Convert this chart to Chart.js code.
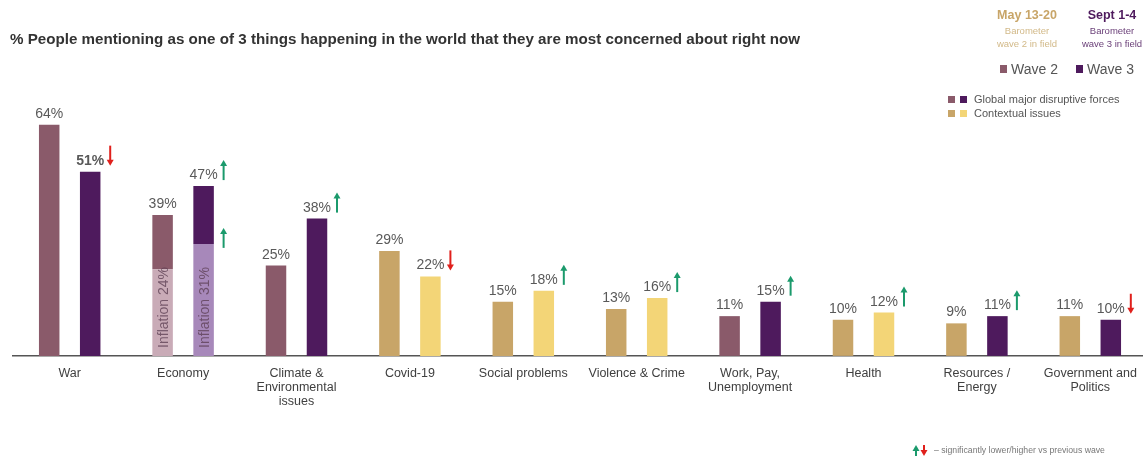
<!DOCTYPE html>
<html>
<head>
<meta charset="utf-8">
<script src="https://cdn.jsdelivr.net/npm/chart.js@4/dist/chart.umd.min.js"></script>
<style>
  html, body { margin: 0; padding: 0; overflow: hidden; background: #fff; }
</style>
</head>
<body>
<canvas id="chart1" width="1150" height="461"></canvas>
<script>
// Chart data
const categories = [['War'], ['Economy'], ['Climate &', 'Environmental', 'issues'], ['Covid-19'],
  ['Social problems'], ['Violence & Crime'], ['Work, Pay,', 'Unemployment'], ['Health'],
  ['Resources /', 'Energy'], ['Government and', 'Politics']];
const wave2 = [64, 39, 25, 29, 15, 13, 11, 10, 9, 11];
const wave3 = [51, 47, 38, 22, 18, 16, 15, 12, 11, 10];
const inflation2 = [0, 24, 0, 0, 0, 0, 0, 0, 0, 0];
const inflation3 = [0, 31, 0, 0, 0, 0, 0, 0, 0, 0];
// g = global major disruptive force, c = contextual issue
const group2 = ['g', 'g', 'g', 'c', 'c', 'c', 'g', 'c', 'c', 'c'];
const group3 = ['g', 'g', 'g', 'c', 'c', 'c', 'g', 'c', 'g', 'g'];
const change3 = ['down', 'up', 'up', 'down', 'up', 'up', 'up', 'up', 'up', 'down'];
const inflationChange3 = ['', 'up', '', '', '', '', '', '', '', ''];

const colors = {
  g2: '#8a5a6a', g3: '#4e1a5d', c2: '#c8a568', c3: '#f3d577',
  inf2: '#c9abb7', inf3: '#a788ba', up: '#1b9a6c', down: '#e0201c'
};
const FONT = '"Liberation Sans", Arial, sans-serif';

const rest2 = wave2.map((v, i) => v - inflation2[i]);
const rest3 = wave3.map((v, i) => v - inflation3[i]);

function drawArrow(c, x, y1, y2, dir, color) {
  // y1 = top, y2 = bottom
  c.save();
  c.strokeStyle = color;
  c.fillStyle = color;
  c.lineWidth = 2;
  c.beginPath();
  if (dir === 'up') {
    c.moveTo(x, y2); c.lineTo(x, y1 + 5); c.stroke();
    c.beginPath(); c.moveTo(x - 3.5, y1 + 6); c.lineTo(x + 3.5, y1 + 6); c.lineTo(x, y1); c.closePath(); c.fill();
  } else {
    c.moveTo(x, y1); c.lineTo(x, y2 - 5); c.stroke();
    c.beginPath(); c.moveTo(x - 3.5, y2 - 6); c.lineTo(x + 3.5, y2 - 6); c.lineTo(x, y2); c.closePath(); c.fill();
  }
  c.restore();
}

const extras = {
  id: 'extras',
  afterDatasetsDraw(chart) {
    const c = chart.ctx;
    const top2 = chart.getDatasetMeta(1).data;
    const top3 = chart.getDatasetMeta(3).data;
    const inf2 = chart.getDatasetMeta(0).data;
    const inf3 = chart.getDatasetMeta(2).data;
    c.save();
    c.textAlign = 'center';
    c.textBaseline = 'alphabetic';
    for (let i = 0; i < categories.length; i++) {
      // wave 2 label
      c.fillStyle = '#595959';
      c.font = '14px ' + FONT;
      c.fillText(wave2[i] + '%', top2[i].x, top2[i].y - 7);
      // wave 3 label
      c.font = (i === 0 ? 'bold ' : '') + '14px ' + FONT;
      const t = wave3[i] + '%';
      c.fillText(t, top3[i].x, top3[i].y - 7);
      const w = c.measureText(t).width;
      if (change3[i]) {
        drawArrow(c, top3[i].x + w / 2 + 6, top3[i].y - 26, top3[i].y - 6, change3[i], colors[change3[i]]);
      }
      // inflation labels inside bars
      [[inflation2, inf2], [inflation3, inf3]].forEach(([vals, els]) => {
        if (vals[i] > 0) {
          c.save();
          c.translate(els[i].x + 5, els[i].base - 8);
          c.rotate(-Math.PI / 2);
          c.textAlign = 'left';
          c.fillStyle = 'rgba(90,60,80,0.75)';
          c.font = '14px ' + FONT;
          c.fillText('Inflation ' + vals[i] + '%', 0, 0);
          c.restore();
        }
      });
      if (inflationChange3[i]) {
        drawArrow(c, top3[i].x + w / 2 + 6, inf3[i].y - 16, inf3[i].y + 4, inflationChange3[i], colors[inflationChange3[i]]);
      }
    }
    c.restore();
  },
  afterDraw(chart) {
    const c = chart.ctx;
    c.save();
    // title
    c.fillStyle = '#333';
    c.font = 'bold 14px ' + FONT;
    c.textBaseline = 'middle';
    c.textAlign = 'left';
    const title = '% People mentioning as one of 3 things happening in the world that they are most concerned about right now';
    const tw = c.measureText(title).width;
    c.save();
    c.translate(10, 40);
    c.scale(790 / tw, 1);
    c.fillText(title, 0, 0);
    c.restore();

    // field dates
    c.textAlign = 'center';
    c.font = 'bold 12.5px ' + FONT;
    c.fillStyle = colors.c2;
    c.fillText('May 13-20', 1027, 16);
    c.fillStyle = colors.g3;
    c.fillText('Sept 1-4', 1112, 16);
    c.font = '9.5px ' + FONT;
    c.fillStyle = '#d2b988';
    c.fillText('Barometer', 1027, 31);
    c.fillText('wave 2 in field', 1027, 44);
    c.fillStyle = '#6a3f78';
    c.fillText('Barometer', 1112, 31);
    c.fillText('wave 3 in field', 1112, 44);

    // wave legend
    c.textAlign = 'left';
    c.font = '14px ' + FONT;
    c.fillStyle = colors.g2;
    c.fillRect(1000, 65, 7, 8);
    c.fillStyle = colors.g3;
    c.fillRect(1076, 65, 7, 8);
    c.fillStyle = '#555';
    c.fillText('Wave 2', 1011, 70);
    c.fillText('Wave 3', 1087, 70);

    // group legend
    c.font = '11px ' + FONT;
    c.fillStyle = colors.g2; c.fillRect(948, 96, 7, 7);
    c.fillStyle = colors.g3; c.fillRect(960, 96, 7, 7);
    c.fillStyle = colors.c2; c.fillRect(948, 110, 7, 7);
    c.fillStyle = colors.c3; c.fillRect(960, 110, 7, 7);
    c.fillStyle = '#555';
    c.fillText('Global major disruptive forces', 974, 100);
    c.fillText('Contextual issues', 974, 114);

    // footnote
    drawArrow(c, 916, 445, 456, 'up', colors.up);
    drawArrow(c, 924, 445, 456, 'down', colors.down);
    c.font = '8.7px ' + FONT;
    c.fillStyle = '#777';
    c.fillText('\u2013 significantly lower/higher vs previous wave', 934, 451);
    c.restore();
  }
};

const ctx = document.getElementById('chart1').getContext('2d');
const chart1 = new Chart(ctx, {
  type: 'bar',
  data: {
    labels: categories,
    datasets: [
      { label: 'Inflation W2', data: inflation2, stack: 'w2', backgroundColor: colors.inf2 },
      { label: 'Wave 2', data: rest2, stack: 'w2', backgroundColor: group2.map(g => colors[g + '2']) },
      { label: 'Inflation W3', data: inflation3, stack: 'w3', backgroundColor: colors.inf3 },
      { label: 'Wave 3', data: rest3, stack: 'w3', backgroundColor: group3.map(g => colors[g + '3']) }
    ]
  },
  options: {
    responsive: false,
    animation: false,
    layout: { padding: { left: 13, right: 3, top: 103, bottom: 42 } },
    categoryPercentage: 0.723,
    barPercentage: 0.5,
    plugins: { legend: { display: false }, tooltip: { enabled: false } },
    scales: {
      x: {
        stacked: true,
        grid: { display: false, drawTicks: false },
        border: { display: true, color: '#555', width: 1.5 },
        ticks: { color: '#404040', padding: 10, font: { family: FONT, size: 12.5, lineHeight: 1.15 }, maxRotation: 0, autoSkip: false }
      },
      y: { stacked: true, display: false, min: 0, max: 70 }
    }
  },
  plugins: [extras]
});
</script>
</body>
</html>
